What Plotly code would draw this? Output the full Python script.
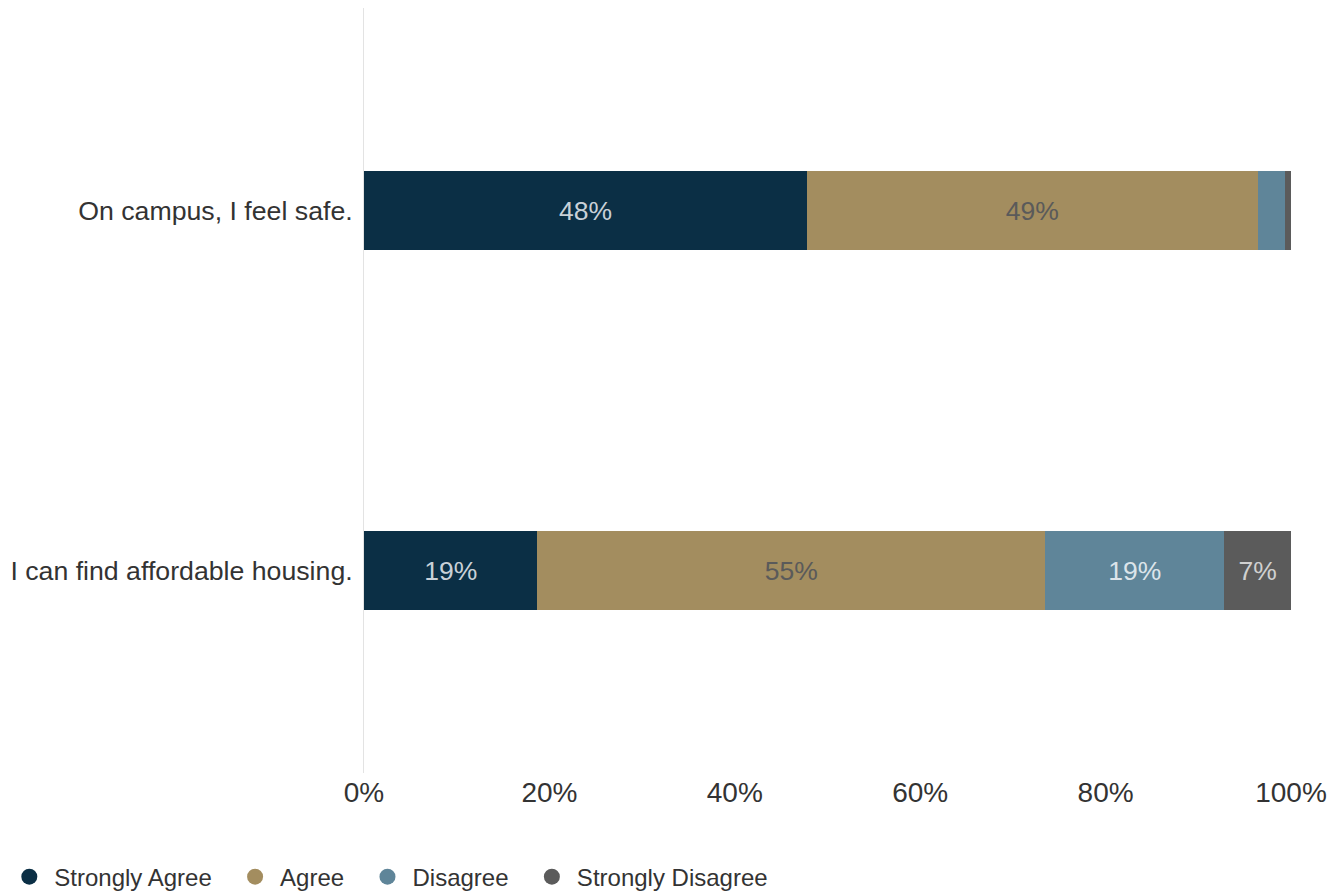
import plotly.graph_objects as go

categories = ["On campus, I feel safe.", "I can find affordable housing."]
series_names = ["Strongly Agree", "Agree", "Disagree", "Strongly Disagree"]
strongly_agree = [47.8, 18.7]
agree = [48.6, 54.8]
disagree = [2.9, 19.3]
strongly_disagree = [0.7, 7.2]
values = [strongly_agree, agree, disagree, strongly_disagree]
colors = ["#0b2f45", "#a38d5f", "#5f8599", "#5b5b5b"]
text_colors = ["#c9d1d8", "#5a5a5a", "#dce4ea", "#d0d0d0"]
tick_vals = [0, 20, 40, 60, 80, 100]
tick_text = ["0%", "20%", "40%", "60%", "80%", "100%"]

FONT = "Liberation Sans, Arial, sans-serif"
PAD = "\u00a0\u00a0"

fig = go.Figure()
for name, vals, col, tcol in zip(series_names, values, colors, text_colors):
    labels = [f"{round(v)}%" if v >= 5 else "" for v in vals]
    fig.add_trace(go.Bar(
        y=categories, x=vals, name=name, orientation="h",
        marker=dict(color=col, line=dict(width=0)),
        text=labels, textposition="inside", insidetextanchor="middle",
        textfont=dict(color=tcol, size=26.5, family=FONT),
        showlegend=False, hoverinfo="skip", width=0.22,
    ))
    fig.add_trace(go.Scatter(
        x=[None], y=[None], mode="markers", name=name + PAD,
        marker=dict(color=col, size=20, symbol="circle"),
        showlegend=True,
    ))

# page has an 8px body margin, so the figure is offset by 8px
fig.update_layout(
    barmode="stack",
    width=1322, height=886,
    margin=dict(l=356, r=39, t=0, b=121, autoexpand=False),
    plot_bgcolor="white", paper_bgcolor="white",
    font=dict(family=FONT, color="#333333"),
    uniformtext=dict(mode="show", minsize=10),
    xaxis=dict(range=[0, 100], tickvals=tick_vals, ticktext=tick_text,
               showgrid=False, zeroline=False, showline=False, automargin=False,
               tickfont=dict(size=28, color="#333333"), fixedrange=True),
    yaxis=dict(categoryorder="array", categoryarray=categories,
               autorange=False, range=[1.5625, -0.5625], automargin=False,
               showgrid=False, zeroline=False, showline=True,
               linecolor="#e3e3e3", linewidth=1,
               ticks="outside", ticklen=5, tickcolor="rgba(0,0,0,0)",
               tickfont=dict(size=26.7, color="#333333")),
    legend=dict(orientation="h", x=-0.388, xanchor="left", y=-0.136,
                yanchor="middle", font=dict(size=24, color="#333333"),
                traceorder="normal", itemwidth=40, tracegroupgap=0),
)

fig.write_html("out.html")
